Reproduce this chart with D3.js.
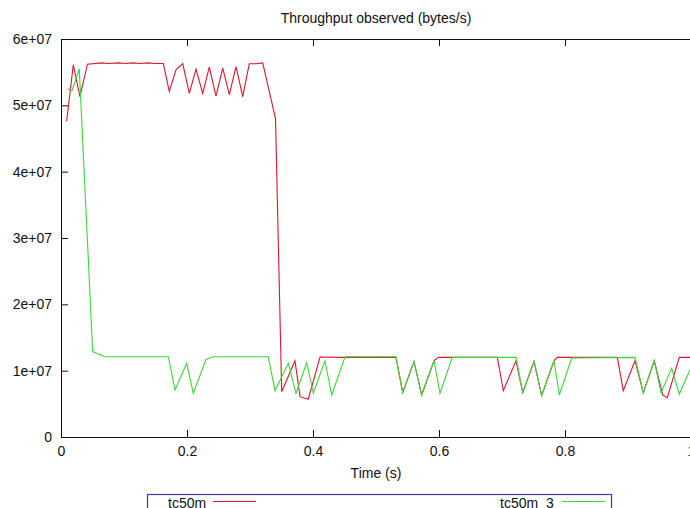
<!DOCTYPE html>
<html>
<head>
<meta charset="utf-8">
<script src="https://cdn.jsdelivr.net/npm/d3@7"></script>
<style>
  html, body { margin: 0; padding: 0; background: #fff; }
  svg { display: block; }
  text { font-family: "Liberation Sans", Arial, sans-serif; }
</style>
</head>
<body>
<svg id="chart" width="690" height="508"></svg>
<script>
// ---- data ----
const chartTitle = "Throughput observed (bytes/s)";
const xAxisTitle = "Time (s)";
const seriesNames = ["tc50m", "tc50m_3"];

const xTickValues = [0, 0.2, 0.4, 0.6, 0.8, 1];
const xTickLabels = ["0", "0.2", "0.4", "0.6", "0.8", "1"];
const yTickValues = [0, 1e7, 2e7, 3e7, 4e7, 5e7, 6e7];
const yTickLabels = ["0", "1e+07", "2e+07", "3e+07", "4e+07", "5e+07", "6e+07"];

// series 1: tc50m (red)
const redTime = [0.009, 0.0195, 0.030, 0.042, 0.0646, 0.0751, 0.0910, 0.1016, 0.1148, 0.1254,
  0.1386, 0.1492, 0.1624, 0.1719, 0.1825, 0.1932, 0.2037, 0.2143, 0.2249, 0.2354,
  0.2460, 0.2567, 0.2671, 0.2778, 0.2884, 0.2989, 0.3095, 0.3202, 0.3405, 0.3503,
  0.3714, 0.3794, 0.3925, 0.4111, 0.4492, 0.4905, 0.5317, 0.5424, 0.5603, 0.5725,
  0.5921, 0.5989, 0.6302, 0.6925, 0.7021, 0.7222, 0.7329, 0.7508, 0.7630, 0.7825,
  0.7878, 0.8211, 0.8830, 0.8925, 0.9111, 0.9243, 0.9417, 0.9551, 0.9624, 0.9814, 0.9984];
const redValue = [4.76e7, 5.61e7, 5.13e7, 5.62e7, 5.64e7, 5.63e7, 5.64e7, 5.63e7, 5.64e7, 5.63e7,
  5.64e7, 5.63e7, 5.63e7, 5.21e7, 5.535e7, 5.63e7, 5.18e7, 5.546e7, 5.18e7, 5.576e7,
  5.14e7, 5.56e7, 5.16e7, 5.585e7, 5.13e7, 5.626e7, 5.626e7, 5.64e7, 4.80e7, 0.683e7,
  1.15e7, 0.608e7, 0.569e7, 1.205e7, 1.20e7, 1.20e7, 1.20e7, 0.668e7, 1.136e7, 0.633e7,
  1.15e7, 1.20e7, 1.20e7, 1.20e7, 0.698e7, 1.15e7, 0.668e7, 1.14e7, 0.625e7, 1.15e7,
  1.20e7, 1.20e7, 1.20e7, 0.698e7, 1.15e7, 0.668e7, 1.15e7, 0.633e7, 0.593e7, 1.20e7, 1.20e7];

// series 2: tc50m_3 (green)
const greenTime = [0.0103, 0.0175, 0.0290, 0.0503, 0.0698, 0.1703, 0.1810, 0.1995, 0.2100, 0.2302,
  0.2417, 0.3290, 0.3397, 0.3608, 0.3730, 0.3900, 0.4005, 0.4190, 0.4297, 0.4508,
  0.5317, 0.5424, 0.5603, 0.5725, 0.5921, 0.6016, 0.6211, 0.7222, 0.7329, 0.7508,
  0.7630, 0.7825, 0.7910, 0.8106, 0.9111, 0.9243, 0.9417, 0.9524, 0.9694, 0.9814, 0.9984];
const greenValue = [5.25e7, 5.22e7, 5.55e7, 1.287e7, 1.21e7, 1.21e7, 0.709e7, 1.11e7, 0.66e7, 1.17e7,
  1.21e7, 1.21e7, 0.698e7, 1.11e7, 0.659e7, 1.12e7, 0.659e7, 1.15e7, 0.633e7, 1.21e7,
  1.21e7, 0.668e7, 1.136e7, 0.633e7, 1.15e7, 0.66e7, 1.20e7, 1.20e7, 0.668e7, 1.14e7,
  0.625e7, 1.15e7, 0.633e7, 1.19e7, 1.20e7, 0.668e7, 1.15e7, 0.668e7, 1.036e7, 0.644e7, 1.01e7];

const seriesColors = ["#e0142e", "#3ad83a"];

// ---- layout ----
const W = 690, H = 508;
const plot = { left: 61, right: 691, top: 39, bottom: 437 };

const svg = d3.select("#chart");

const x = d3.scaleLinear().domain([0, 1]).range([plot.left, plot.right]);
const y = d3.scaleLinear().domain([0, 6e7]).range([plot.bottom, plot.top]);

const tickLen = 7;
const fontSize = 14;

// clip
svg.append("defs").append("clipPath").attr("id", "clip")
  .append("rect").attr("x", plot.left).attr("y", plot.top)
  .attr("width", plot.right - plot.left).attr("height", plot.bottom - plot.top);

// series
const seriesData = [
  redTime.map((t, i) => [t, redValue[i]]),
  greenTime.map((t, i) => [t, greenValue[i]])
];
const line = d3.line().x(d => x(d[0])).y(d => y(d[1]));
const g = svg.append("g").attr("clip-path", "url(#clip)");
seriesData.forEach((data, i) => {
  g.append("path").datum(data)
    .attr("fill", "none")
    .attr("stroke", seriesColors[i])
    .attr("stroke-width", 1.1)
    .attr("stroke-linejoin", "miter")
    .attr("d", line);
});

// axes (gnuplot style: inward ticks, mirrored)
const leftAxis = d3.axisLeft(y).tickValues(yTickValues)
  .tickFormat((d, i) => yTickLabels[i]).tickSizeInner(-tickLen).tickSizeOuter(0).tickPadding(9);
const bottomAxis = d3.axisBottom(x).tickValues(xTickValues)
  .tickFormat((d, i) => xTickLabels[i]).tickSizeInner(-tickLen).tickSizeOuter(0).tickPadding(9);
const topAxis = d3.axisTop(x).tickValues(xTickValues).tickFormat("")
  .tickSizeInner(-tickLen).tickSizeOuter(0);

function styleAxis(sel) {
  sel.select(".domain").remove();
  sel.selectAll(".tick line").attr("stroke", "#111").attr("stroke-width", 1);
  sel.selectAll(".tick text").attr("fill", "#111")
    .style("font-size", fontSize + "px")
    .style("font-family", '"Liberation Sans", Arial, sans-serif');
}

svg.append("g").attr("transform", `translate(${plot.left},0)`).call(leftAxis).call(styleAxis);
svg.append("g").attr("transform", `translate(0,${plot.bottom})`).call(bottomAxis).call(styleAxis);
svg.append("g").attr("transform", `translate(0,${plot.top})`).call(topAxis).call(styleAxis);

// border
svg.append("rect")
  .attr("x", plot.left + 0.5).attr("y", plot.top + 0.5)
  .attr("width", plot.right - plot.left).attr("height", plot.bottom - plot.top)
  .attr("fill", "none").attr("stroke", "#111").attr("stroke-width", 1);

// title
svg.append("text")
  .attr("x", (plot.left + plot.right) / 2).attr("y", 23)
  .attr("text-anchor", "middle").attr("fill", "#111")
  .style("font-size", fontSize + "px").text(chartTitle);

// x axis title
svg.append("text")
  .attr("x", (plot.left + plot.right) / 2).attr("y", 478)
  .attr("text-anchor", "middle").attr("fill", "#111")
  .style("font-size", fontSize + "px").text(xAxisTitle);

// legend
const legend = svg.append("g");
legend.append("rect")
  .attr("x", 147.5).attr("y", 494.5).attr("width", 464).attr("height", 30)
  .attr("fill", "none").attr("stroke", "#3b3bc4").attr("stroke-width", 1.2);
const legendItems = [
  { textX: 168, lineX1: 213, lineX2: 256 },
  { textX: 500, lineX1: 562, lineX2: 605 }
];
legendItems.forEach((it, i) => {
  legend.append("text").attr("x", it.textX).attr("y", 507.5)
    .attr("fill", "#111").style("font-size", fontSize + "px").text(seriesNames[i]);
  legend.append("line")
    .attr("x1", it.lineX1).attr("x2", it.lineX2).attr("y1", 501.5).attr("y2", 501.5)
    .attr("stroke", seriesColors[i]).attr("stroke-width", 1.1);
});
</script>
</body>
</html>
